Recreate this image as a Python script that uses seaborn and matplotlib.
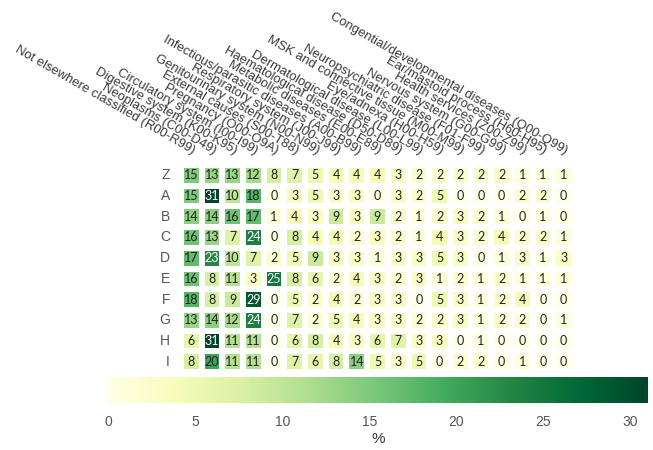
import numpy as np
import pandas as pd
import seaborn as sns
import matplotlib.pyplot as plt

rows = ["Z", "A", "B", "C", "D", "E", "F", "G", "H", "I"]
categories = [
    "Not elsewhere classified (R00-R99)",
    "Neoplasms (C00-D49)",
    "Digestive system (K00-K95)",
    "Circulatory system (I00-I99)",
    "Pregnancy (O00-O9A)",
    "External causes (S00-T88)",
    "Genitourinary system (N00-N99)",
    "Respiratory system (J00-J99)",
    "Infectious/parasitic diseases (A00-B99)",
    "Metabolic diseases (E00-E89)",
    "Haematological disease (D50-D89)",
    "Dermatological disease (L00-L99)",
    "Eye/adnexa (H00-H59)",
    "MSK and connective tissue (M00-M99)",
    "Neuropsychiatric disease (F01-F99)",
    "Nervous system (G00-G99)",
    "Health services (Z00-Z99)",
    "Ear/mastoid process (H60-H95)",
    "Congential/developmental diseases (Q00-Q99)",
]

row_Z = [15, 13, 13, 12, 8, 7, 5, 4, 4, 4, 3, 2, 2, 2, 2, 2, 1, 1, 1]
row_A = [15, 31, 10, 18, 0, 3, 5, 3, 3, 0, 3, 2, 5, 0, 0, 0, 2, 2, 0]
row_B = [14, 14, 16, 17, 1, 4, 3, 9, 3, 9, 2, 1, 2, 3, 2, 1, 0, 1, 0]
row_C = [16, 13, 7, 24, 0, 8, 4, 4, 2, 3, 2, 1, 4, 3, 2, 4, 2, 2, 1]
row_D = [17, 23, 10, 7, 2, 5, 9, 3, 3, 1, 3, 3, 5, 3, 0, 1, 3, 1, 3]
row_E = [16, 8, 11, 3, 25, 8, 6, 2, 4, 3, 2, 3, 1, 2, 1, 2, 1, 1, 1]
row_F = [18, 8, 9, 29, 0, 5, 2, 4, 2, 3, 3, 0, 5, 3, 1, 2, 4, 0, 0]
row_G = [13, 14, 12, 24, 0, 7, 2, 5, 4, 3, 3, 2, 2, 3, 1, 2, 2, 0, 1]
row_H = [6, 31, 11, 11, 0, 6, 8, 4, 3, 6, 7, 3, 3, 0, 1, 0, 0, 0, 0]
row_I = [8, 20, 11, 11, 0, 7, 6, 8, 14, 5, 3, 5, 0, 2, 2, 0, 1, 0, 0]

cbar_ticks = [0, 5, 10, 15, 20, 25, 30]

data = pd.DataFrame([row_Z, row_A, row_B, row_C, row_D, row_E, row_F,
                     row_G, row_H, row_I], index=rows, columns=categories)

plt.rcParams['font.family'] = ['Liberation Sans', 'DejaVu Sans']

fig = plt.figure(figsize=(6.53, 4.5), dpi=100)
ax = fig.add_axes([181 / 653, 1 - 372 / 450, 393 / 653, 207 / 450])
cax = fig.add_axes([108 / 653, 1 - 403 / 450, 540 / 653, 26 / 450])

sns.heatmap(data, ax=ax, cmap="YlGn", vmin=0, vmax=31, annot=True, fmt="d",
            linewidths=3, linecolor="white", cbar_ax=cax,
            cbar_kws={"orientation": "horizontal", "ticks": cbar_ticks},
            annot_kws={"fontsize": 9, "family": "Lato"})

# text colour: white only on the darkest cells
for t in ax.texts:
    v = int(t.get_text())
    t.set_color("white" if v >= 21 else "#222222")

ax.xaxis.tick_top()
ax.set_xticklabels(categories, rotation=-30, ha="right", va="bottom",
                   rotation_mode="anchor", fontsize=9.4, color="#3a3a3a")
ax.set_yticklabels(rows, rotation=0, fontsize=10, color="#555555")
ax.tick_params(axis="both", length=0)
ax.tick_params(axis="x", pad=6)
ax.tick_params(axis="y", pad=8)
ax.set_xlabel("")
ax.set_ylabel("")

cbar = ax.collections[0].colorbar
cbar.outline.set_visible(False)
cax.tick_params(length=0, pad=9, labelsize=10, labelcolor="#555555")
cax.set_xlabel("%", fontsize=11, color="#333333", labelpad=2)

fig.savefig("out.png", dpi=100)
